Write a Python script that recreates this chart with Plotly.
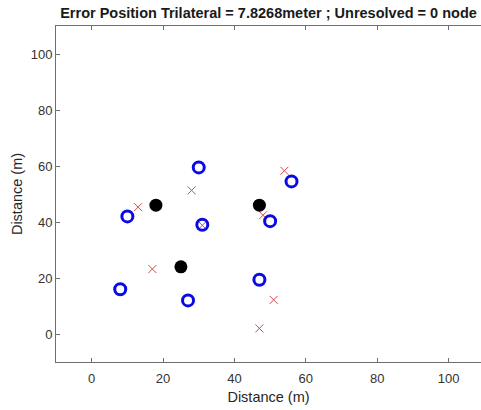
import plotly.graph_objects as go

# Anchor nodes (black filled)
anchor_x = [18, 25, 47]
anchor_y = [46, 24, 46]

# Unknown nodes true position (blue circles)
node_x = [8, 10, 30, 31, 27, 47, 50, 56]
node_y = [16, 42, 59.5, 39, 12, 19.4, 40.3, 54.5]

# Estimated positions (red crosses)
est_x = [13, 17, 28, 31, 48, 51, 47, 54]
est_y = [45.3, 23.2, 51.3, 38.8, 42.4, 12.2, 2, 58.3]

title_text = "Error Position Trilateral = 7.8268meter ; Unresolved = 0 node"
x_ticks = [0, 20, 40, 60, 80, 100]
y_ticks = [0, 20, 40, 60, 80, 100]

fig = go.Figure()
fig.add_trace(go.Scatter(x=est_x, y=est_y, mode="markers",
                         marker=dict(symbol="x-thin", size=8, color="#d44a4a",
                                     line=dict(color="#d44a4a", width=1)),
                         showlegend=False))
fig.add_trace(go.Scatter(x=node_x, y=node_y, mode="markers",
                         marker=dict(symbol="circle-open", size=11, color="#0a0ae6",
                                     line=dict(width=3)),
                         showlegend=False))
fig.add_trace(go.Scatter(x=anchor_x, y=anchor_y, mode="markers",
                         marker=dict(symbol="circle", size=13, color="black"),
                         showlegend=False))

axis_common = dict(showgrid=False, zeroline=False, showline=True, linecolor="#6e6e6e",
                   linewidth=1, ticks="inside", ticklen=4, tickcolor="#6e6e6e",
                   tickfont=dict(family="Liberation Sans, Arial", size=13, color="#333333"),
                   title_font=dict(family="Liberation Sans, Arial", size=14.5, color="#262626"))

fig.update_xaxes(range=[-10, 109.1], tickvals=x_ticks, mirror="ticks",
                 ticklabelstandoff=4,
                 title_text="Distance (m)", title_standoff=7, **axis_common)
fig.update_yaxes(range=[-10, 110], tickvals=y_ticks, mirror=False,
                 title_text="Distance (m)", title_standoff=4, **axis_common)

fig.update_layout(
    width=481, height=410,
    margin=dict(l=56, r=0, t=26, b=48),
    paper_bgcolor="white", plot_bgcolor="white",
    title=dict(text="<b>" + title_text + "</b>", x=0.5, xref="paper", y=1, yref="container",
               yanchor="top", pad=dict(t=8),
               font=dict(family="Liberation Sans, Arial", size=14.5, color="#1a1a1a")),
)

fig.write_html("out.html")
